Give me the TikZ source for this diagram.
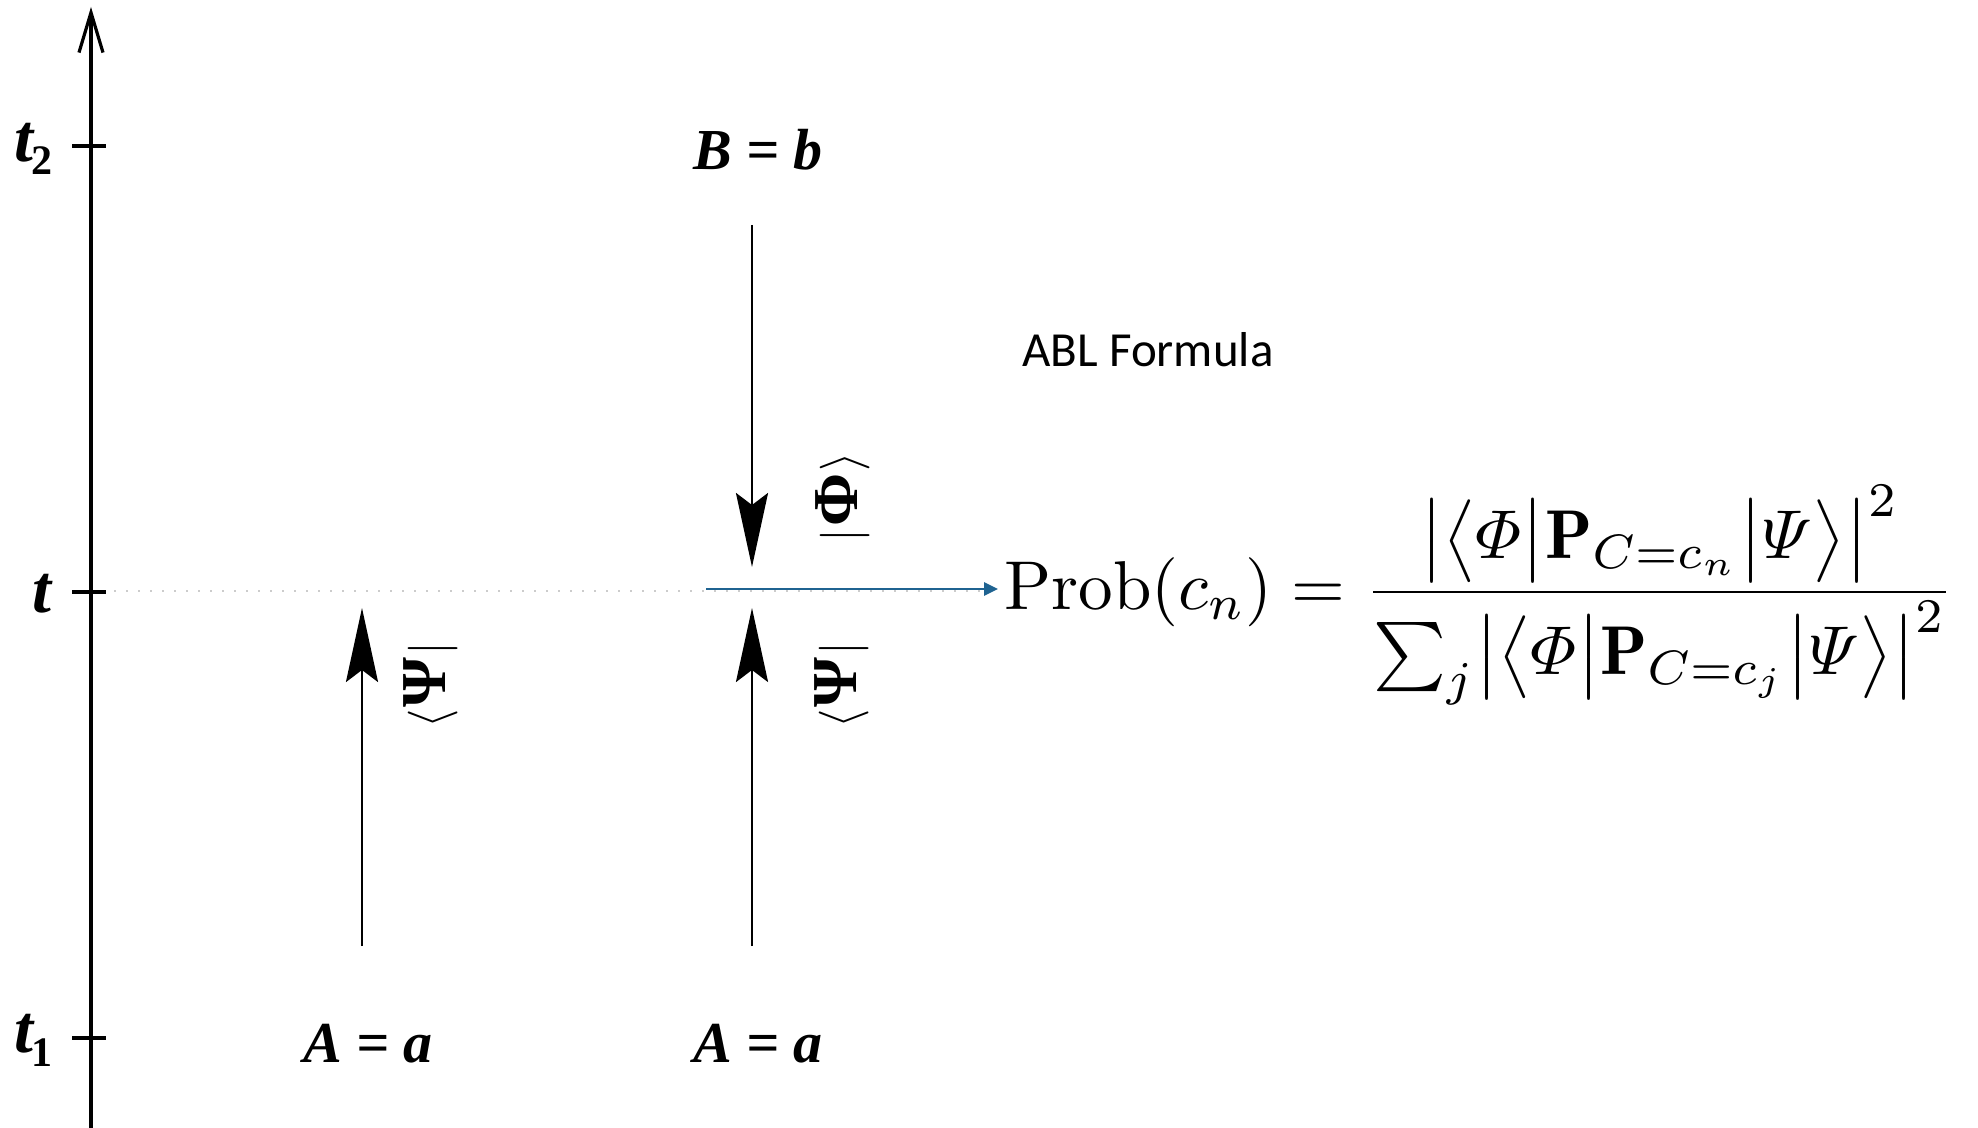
\documentclass[tikz,border=0pt]{standalone}
\usepackage{fontspec}
\usepackage{amsmath}
\usepackage{graphicx}
\usetikzlibrary{arrows.meta}
\newfontfamily\tmsfont{Liberation Serif}
\newfontfamily\ablfont{Carlito}
\definecolor{blueline}{HTML}{1F6391}
\tikzset{
  axisline/.style={line width=1.6pt,-{Straight Barb[length=20pt,width=12pt,line width=1.6pt]}},
  tickline/.style={line width=1.6pt},
  varrow/.style={line width=1.4pt,-{Stealth[length=37pt,width=16pt,inset=6pt]}},
  dotline/.style={line width=1.2pt,gray!40,dash pattern=on 1.2pt off 4.8pt},
  bluearrow/.style={line width=1.4pt,blueline,-{Triangle[length=7pt,width=6.5pt]}},
  lab/.style={inner sep=0pt,font=\tmsfont\bfseries\itshape\fontsize{29}{32}\selectfont},
  tlab/.style={inner sep=0pt,font=\tmsfont\bfseries\itshape\fontsize{34}{36}\selectfont},
  vlab/.style={inner sep=0pt,rotate=90,font=\tmsfont\bfseries\fontsize{32}{34}\selectfont},
}
\begin{document}
\begin{tikzpicture}[x=0.5pt,y=-0.5pt]
\useasboundingbox (0,0) rectangle (1978,1128);
% time axis
\coordinate (axbot) at (91,1128);
\coordinate (axtop) at (91,7);
\draw[axisline] (axbot) -- (axtop);
\coordinate (tk2a) at (72,146); \coordinate (tk2b) at (106,146);
\coordinate (tka) at (72,592);  \coordinate (tkb) at (106,592);
\coordinate (tk1a) at (72,1038); \coordinate (tk1b) at (106,1038);
\draw[tickline] (tk2a) -- (tk2b);
\draw[tickline] (tka) -- (tkb);
\draw[tickline] (tk1a) -- (tk1b);
\node[tlab,anchor=base west] (lt2) at (14,162) {t\kern-1pt\raisebox{-6.5pt}{\fontsize{21}{21}\selectfont\upshape 2}};
\node[tlab,anchor=base west] (lt) at (32,613) {t};
\node[tlab,anchor=base west] (lt1) at (14,1052) {t\kern-1pt\raisebox{-7pt}{\fontsize{21}{21}\selectfont\upshape 1}};
% dotted line at t
\coordinate (dotA) at (114,591);
\coordinate (dotB) at (997,591);
\draw[dotline] (dotA) -- (dotB);
% labels
\node[lab,anchor=base] (Aa1) at (368,1062) {A = a};
\node[lab,anchor=base] (Aa2) at (758,1062) {A = a};
\node[lab,anchor=base] (Bb) at (758,170) {B = b};
% vertical arrows
\coordinate (a1s) at (362,946); \coordinate (a1e) at (362,608);
\coordinate (a2s) at (752,946); \coordinate (a2e) at (752,608);
\coordinate (a3s) at (752,225); \coordinate (a3e) at (752,567);
\draw[varrow] (a1s) -- (a1e);
\draw[varrow] (a2s) -- (a2e);
\draw[varrow] (a3s) -- (a3e);
% bras and kets
\node[vlab] (psi1) at (431,685) {$\langle$\kern1pt Ψ\kern1pt$|$};
\node[vlab] (psi2) at (842,685) {$\langle$\kern1pt Ψ\kern1pt$|$};
\node[vlab] (phi) at (843,497) {$|$\kern1pt Φ\kern1pt$\rangle$};
% ABL
\node[inner sep=0pt,anchor=base,font=\ablfont\fontsize{24.5}{28}\selectfont] (abl) at (1148,367) {ABL Formula};
% formula
\node[inner sep=0pt,anchor=west] (formula) at (1004,595) {\resizebox{475pt}{!}{$\displaystyle \mathrm{Prob}(c_n) = \frac{\bigl|\bigl\langle \varPhi \big| \mathbf{P}_{C=c_n} \big| \varPsi \bigr\rangle\bigr|^2}{\sum_j \bigl|\bigl\langle \varPhi \big| \mathbf{P}_{C=c_j} \big| \varPsi \bigr\rangle\bigr|^2}$}};
% blue arrow
\coordinate (bstart) at (706,589);
\coordinate (bend) at (998,589);
\draw[bluearrow] (bstart) -- (bend);
\end{tikzpicture}
\end{document}
